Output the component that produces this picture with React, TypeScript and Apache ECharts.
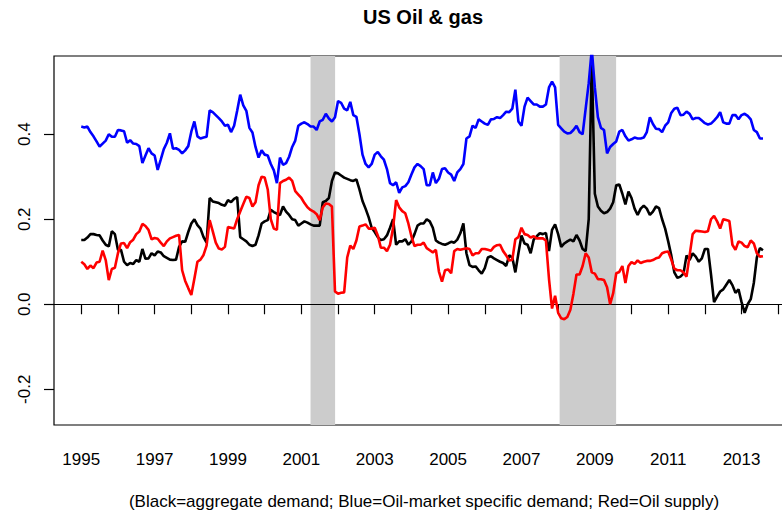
import React, { useEffect, useRef } from "react";
import * as echarts from "echarts";

const START_YEAR = 1995;
const TITLE = "US Oil & gas";
const FOOTER = "(Black=aggregate demand; Blue=Oil-market specific demand; Red=Oil supply)";

const xTickValues = [1995, 1996, 1997, 1998, 1999, 2000, 2001, 2002, 2003, 2004, 2005, 2006, 2007, 2008, 2009, 2010, 2011, 2012, 2013, 2014];
const xLabelValues = [1995, 1997, 1999, 2001, 2003, 2005, 2007, 2009, 2011, 2013];
const yTickValues = [-0.2, 0, 0.2, 0.4];

const recessions = [
  [2001.25, 2001.92],
  [2008.04, 2009.58],
];

// monthly values, starting January 1995
const aggregateDemand = [
  0.151, 0.151, 0.157, 0.165, 0.165, 0.163, 0.162, 0.15, 0.14, 0.136, 0.172, 0.165,
  0.128, 0.128, 0.10, 0.092, 0.097, 0.095, 0.104, 0.1, 0.13, 0.107, 0.108, 0.12,
  0.115, 0.124, 0.122, 0.113, 0.109, 0.105, 0.104, 0.105, 0.135, 0.148, 0.147, 0.17,
  0.19, 0.2, 0.186, 0.178, 0.158, 0.145, 0.25, 0.242, 0.24, 0.238, 0.234, 0.232,
  0.245, 0.24, 0.248, 0.252, 0.158, 0.153, 0.148, 0.14, 0.137, 0.14, 0.162, 0.19,
  0.195, 0.198, 0.222, 0.217, 0.213, 0.21, 0.23, 0.218, 0.21, 0.2, 0.198, 0.185,
  0.19, 0.195, 0.192, 0.188, 0.185, 0.185, 0.185, 0.24, 0.243, 0.25, 0.29, 0.31,
  0.308, 0.303, 0.298, 0.295, 0.292, 0.29, 0.294, 0.27, 0.243, 0.225, 0.205, 0.18,
  0.17, 0.158, 0.151, 0.153, 0.162, 0.18, 0.2, 0.14, 0.148, 0.148, 0.153, 0.14,
  0.148, 0.165, 0.185, 0.19, 0.19, 0.2, 0.195, 0.18, 0.15, 0.145, 0.142, 0.14,
  0.143, 0.147, 0.145, 0.152, 0.167, 0.19, 0.12, 0.092, 0.088, 0.089, 0.08, 0.072,
  0.085, 0.11, 0.113, 0.108, 0.104, 0.1, 0.097, 0.09, 0.115, 0.11, 0.075, 0.12,
  0.162, 0.143, 0.14, 0.12, 0.152, 0.16, 0.167, 0.165, 0.168, 0.125, 0.175, 0.188,
  0.165, 0.135, 0.143, 0.148, 0.152, 0.148, 0.163, 0.15, 0.13, 0.125, 0.2, 0.575,
  0.26, 0.23, 0.22, 0.214, 0.217, 0.225, 0.24, 0.28, 0.282, 0.26, 0.235, 0.265,
  0.25, 0.225, 0.21, 0.225, 0.232, 0.225, 0.21, 0.218, 0.23, 0.226, 0.2, 0.178,
  0.148, 0.115, 0.075, 0.062, 0.065, 0.072, 0.115, 0.104, 0.12, 0.112, 0.1, 0.108,
  0.13, 0.13, 0.07, 0.005, 0.018, 0.03, 0.035, 0.046, 0.057, 0.045, 0.027, 0.035,
  0.005, -0.02, 0.0, 0.012, 0.05, 0.11, 0.132, 0.127,
];

const oilSpecificDemand = [
  0.418, 0.416, 0.418, 0.405, 0.395, 0.383, 0.371, 0.378, 0.385, 0.40, 0.394, 0.394,
  0.41, 0.409, 0.407, 0.380, 0.386, 0.378, 0.377, 0.372, 0.332, 0.35, 0.367, 0.355,
  0.35, 0.316, 0.34, 0.365, 0.38, 0.402, 0.366, 0.367, 0.363, 0.355, 0.362, 0.372,
  0.406, 0.43, 0.395, 0.39, 0.392, 0.394, 0.456, 0.452, 0.445, 0.438, 0.43, 0.42,
  0.422, 0.405, 0.42, 0.455, 0.493, 0.468, 0.455, 0.415, 0.404, 0.37, 0.345, 0.362,
  0.352, 0.35, 0.33, 0.315, 0.285, 0.345, 0.328, 0.332, 0.347, 0.37, 0.385, 0.42,
  0.425, 0.428, 0.424, 0.418, 0.418, 0.41, 0.43, 0.434, 0.448, 0.437, 0.43, 0.44,
  0.478, 0.474, 0.46, 0.456, 0.476, 0.445, 0.441, 0.40, 0.352, 0.33, 0.322, 0.33,
  0.352, 0.358, 0.348, 0.34, 0.318, 0.285, 0.28, 0.287, 0.262, 0.275, 0.278, 0.287,
  0.305, 0.322, 0.33, 0.325, 0.318, 0.28, 0.28, 0.31, 0.285, 0.295, 0.318, 0.32,
  0.31, 0.305, 0.29, 0.31, 0.318, 0.33, 0.39, 0.395, 0.42, 0.415, 0.435, 0.43,
  0.425, 0.422, 0.435, 0.436, 0.44, 0.438, 0.445, 0.453, 0.452, 0.46, 0.505, 0.43,
  0.42, 0.465, 0.486, 0.478, 0.47, 0.47, 0.465, 0.465, 0.47, 0.51, 0.524, 0.51,
  0.422, 0.414, 0.406, 0.402, 0.403, 0.41, 0.42, 0.405, 0.40, 0.46, 0.52, 0.60,
  0.51, 0.44, 0.415, 0.41, 0.355, 0.37, 0.377, 0.383, 0.406, 0.41, 0.395, 0.385,
  0.388, 0.392, 0.39, 0.39, 0.392, 0.405, 0.44, 0.424, 0.413, 0.412, 0.405, 0.42,
  0.428, 0.45, 0.46, 0.462, 0.445, 0.446, 0.453, 0.448, 0.435, 0.438, 0.438, 0.432,
  0.426, 0.423, 0.425, 0.432, 0.44, 0.452, 0.428, 0.425, 0.425, 0.445, 0.445, 0.435,
  0.445, 0.448, 0.443, 0.435, 0.41, 0.405, 0.39, 0.39,
];

const oilSupply = [
  0.1, 0.094, 0.083, 0.091, 0.085, 0.098, 0.1, 0.126, 0.104, 0.057, 0.083, 0.086,
  0.12, 0.143, 0.144, 0.132, 0.146, 0.152, 0.165, 0.171, 0.189, 0.184, 0.175, 0.153,
  0.156, 0.154, 0.145, 0.137, 0.148, 0.155, 0.158, 0.161, 0.163, 0.08, 0.055, 0.038,
  0.022, 0.06, 0.1, 0.105, 0.116, 0.138, 0.198, 0.172, 0.145, 0.131, 0.129, 0.135,
  0.182, 0.18, 0.178, 0.2, 0.218, 0.236, 0.253, 0.25, 0.23, 0.24, 0.28, 0.3,
  0.298, 0.27, 0.2, 0.178, 0.175, 0.285, 0.29, 0.293, 0.298, 0.29, 0.266, 0.258,
  0.25, 0.238, 0.228, 0.222, 0.218, 0.212, 0.198, 0.228, 0.237, 0.236, 0.23, 0.03,
  0.025, 0.027, 0.028, 0.11, 0.138, 0.13, 0.15, 0.183, 0.185, 0.188, 0.178, 0.178,
  0.18, 0.162, 0.133, 0.133, 0.125, 0.14, 0.18, 0.245, 0.228, 0.219, 0.214, 0.19,
  0.16, 0.137, 0.14, 0.14, 0.145, 0.132, 0.127, 0.122, 0.128, 0.077, 0.053, 0.08,
  0.082, 0.073, 0.125, 0.13, 0.128, 0.13, 0.132, 0.13, 0.115, 0.12, 0.12, 0.13,
  0.13, 0.128, 0.126, 0.135, 0.139, 0.14, 0.125, 0.115, 0.103, 0.105, 0.153, 0.158,
  0.18, 0.165, 0.163, 0.157, 0.16, 0.155, 0.155, 0.155, 0.15, 0.06, -0.01, 0.02,
  -0.02, -0.033, -0.035, -0.03, -0.013, 0.025, 0.07, 0.07, 0.09, 0.12, 0.11, 0.075,
  0.072, 0.059, 0.059, 0.057, 0.04, 0.0, 0.026, 0.073, 0.076, 0.09, 0.05, 0.09,
  0.099, 0.095, 0.103, 0.097, 0.1, 0.102, 0.102, 0.104, 0.108, 0.11, 0.12, 0.123,
  0.124, 0.105, 0.084, 0.08, 0.08, 0.075, 0.065, 0.115, 0.165, 0.173, 0.172, 0.171,
  0.17, 0.172, 0.2, 0.208, 0.195, 0.178, 0.2, 0.198, 0.196, 0.14, 0.128, 0.148,
  0.145, 0.137, 0.134, 0.15, 0.143, 0.12, 0.112, 0.113,
];

const FONT = "'Liberation Sans', Arial, Helvetica, sans-serif";

function toPairs(values: number[]) {
  return values.map((v, i) => [START_YEAR + i / 12, v]);
}

export default function App() {
  const ref = useRef<HTMLDivElement>(null);

  useEffect(() => {
    if (!ref.current) return;
    const chart = echarts.init(ref.current, undefined, { renderer: "svg" });
    const lineSeries = (name: string, values: number[], color: string, z: number) => ({
      name,
      type: "line",
      data: toPairs(values),
      showSymbol: false,
      symbol: "none",
      lineStyle: { color, width: 2.6 },
      itemStyle: { color },
      z,
      silent: true,
    });
    chart.setOption({
      animation: false,
      backgroundColor: "#ffffff",
      grid: {
        left: 54,
        top: 56,
        right: 0,
        bottom: 89,
        show: true,
        borderColor: "#000000",
        borderWidth: 1.2,
        backgroundColor: "transparent",
      },
      xAxis: {
        type: "value",
        min: 1994.257,
        max: 2014.32,
        axisLine: { show: false },
        splitLine: { show: false },
        axisTick: {
          show: true,
          inside: false,
          length: 10,
          customValues: xTickValues,
          lineStyle: { color: "#000", width: 1.2 },
        },
        axisLabel: {
          show: true,
          customValues: xLabelValues,
          margin: 26,
          color: "#000",
          fontSize: 17,
          fontFamily: FONT,
          formatter: (v: number) => String(Math.round(v)),
        },
      },
      yAxis: {
        type: "value",
        min: -0.284,
        max: 0.584,
        axisLine: { show: false },
        splitLine: { show: false },
        axisTick: {
          show: true,
          inside: false,
          length: 10,
          customValues: yTickValues,
          lineStyle: { color: "#000", width: 1.2 },
        },
        axisLabel: {
          show: true,
          customValues: yTickValues,
          rotate: 90,
          margin: 21,
          color: "#000",
          fontSize: 17,
          fontFamily: FONT,
          formatter: (v: number) => v.toFixed(1),
        },
      },
      series: [
        {
          name: "shading",
          type: "line",
          data: [],
          z: 1,
          silent: true,
          markArea: {
            silent: true,
            itemStyle: { color: "#cccccc" },
            data: recessions.map(([a, b]) => [{ xAxis: a }, { xAxis: b }]),
          },
          markLine: {
            silent: true,
            symbol: ["none", "none"],
            label: { show: false },
            lineStyle: { color: "#000000", width: 1.2, type: "solid" },
            data: [{ yAxis: 0 }],
          },
        },
        lineSeries("Aggregate demand", aggregateDemand, "#000000", 3),
        lineSeries("Oil-market specific demand", oilSpecificDemand, "#0000ff", 4),
        lineSeries("Oil supply", oilSupply, "#ff0000", 5),
      ],
      graphic: [
        {
          type: "text",
          x: 423,
          y: 17,
          silent: true,
          style: {
            text: TITLE,
            font: `bold 20px ${FONT}`,
            fill: "#000",
            textAlign: "center",
            textVerticalAlign: "middle",
          },
        },
        {
          type: "text",
          x: 424,
          y: 501.5,
          silent: true,
          style: {
            text: FOOTER,
            font: `17px ${FONT}`,
            fill: "#000",
            textAlign: "center",
            textVerticalAlign: "middle",
          },
        },
      ],
    });
    return () => chart.dispose();
  }, []);

  return (
    <div style={{ position: "absolute", left: 0, top: 0, width: 782, height: 514, overflow: "hidden", background: "#fff" }}>
      <div ref={ref} style={{ position: "absolute", left: 0, top: 0, width: 790, height: 514 }} />
    </div>
  );
}
